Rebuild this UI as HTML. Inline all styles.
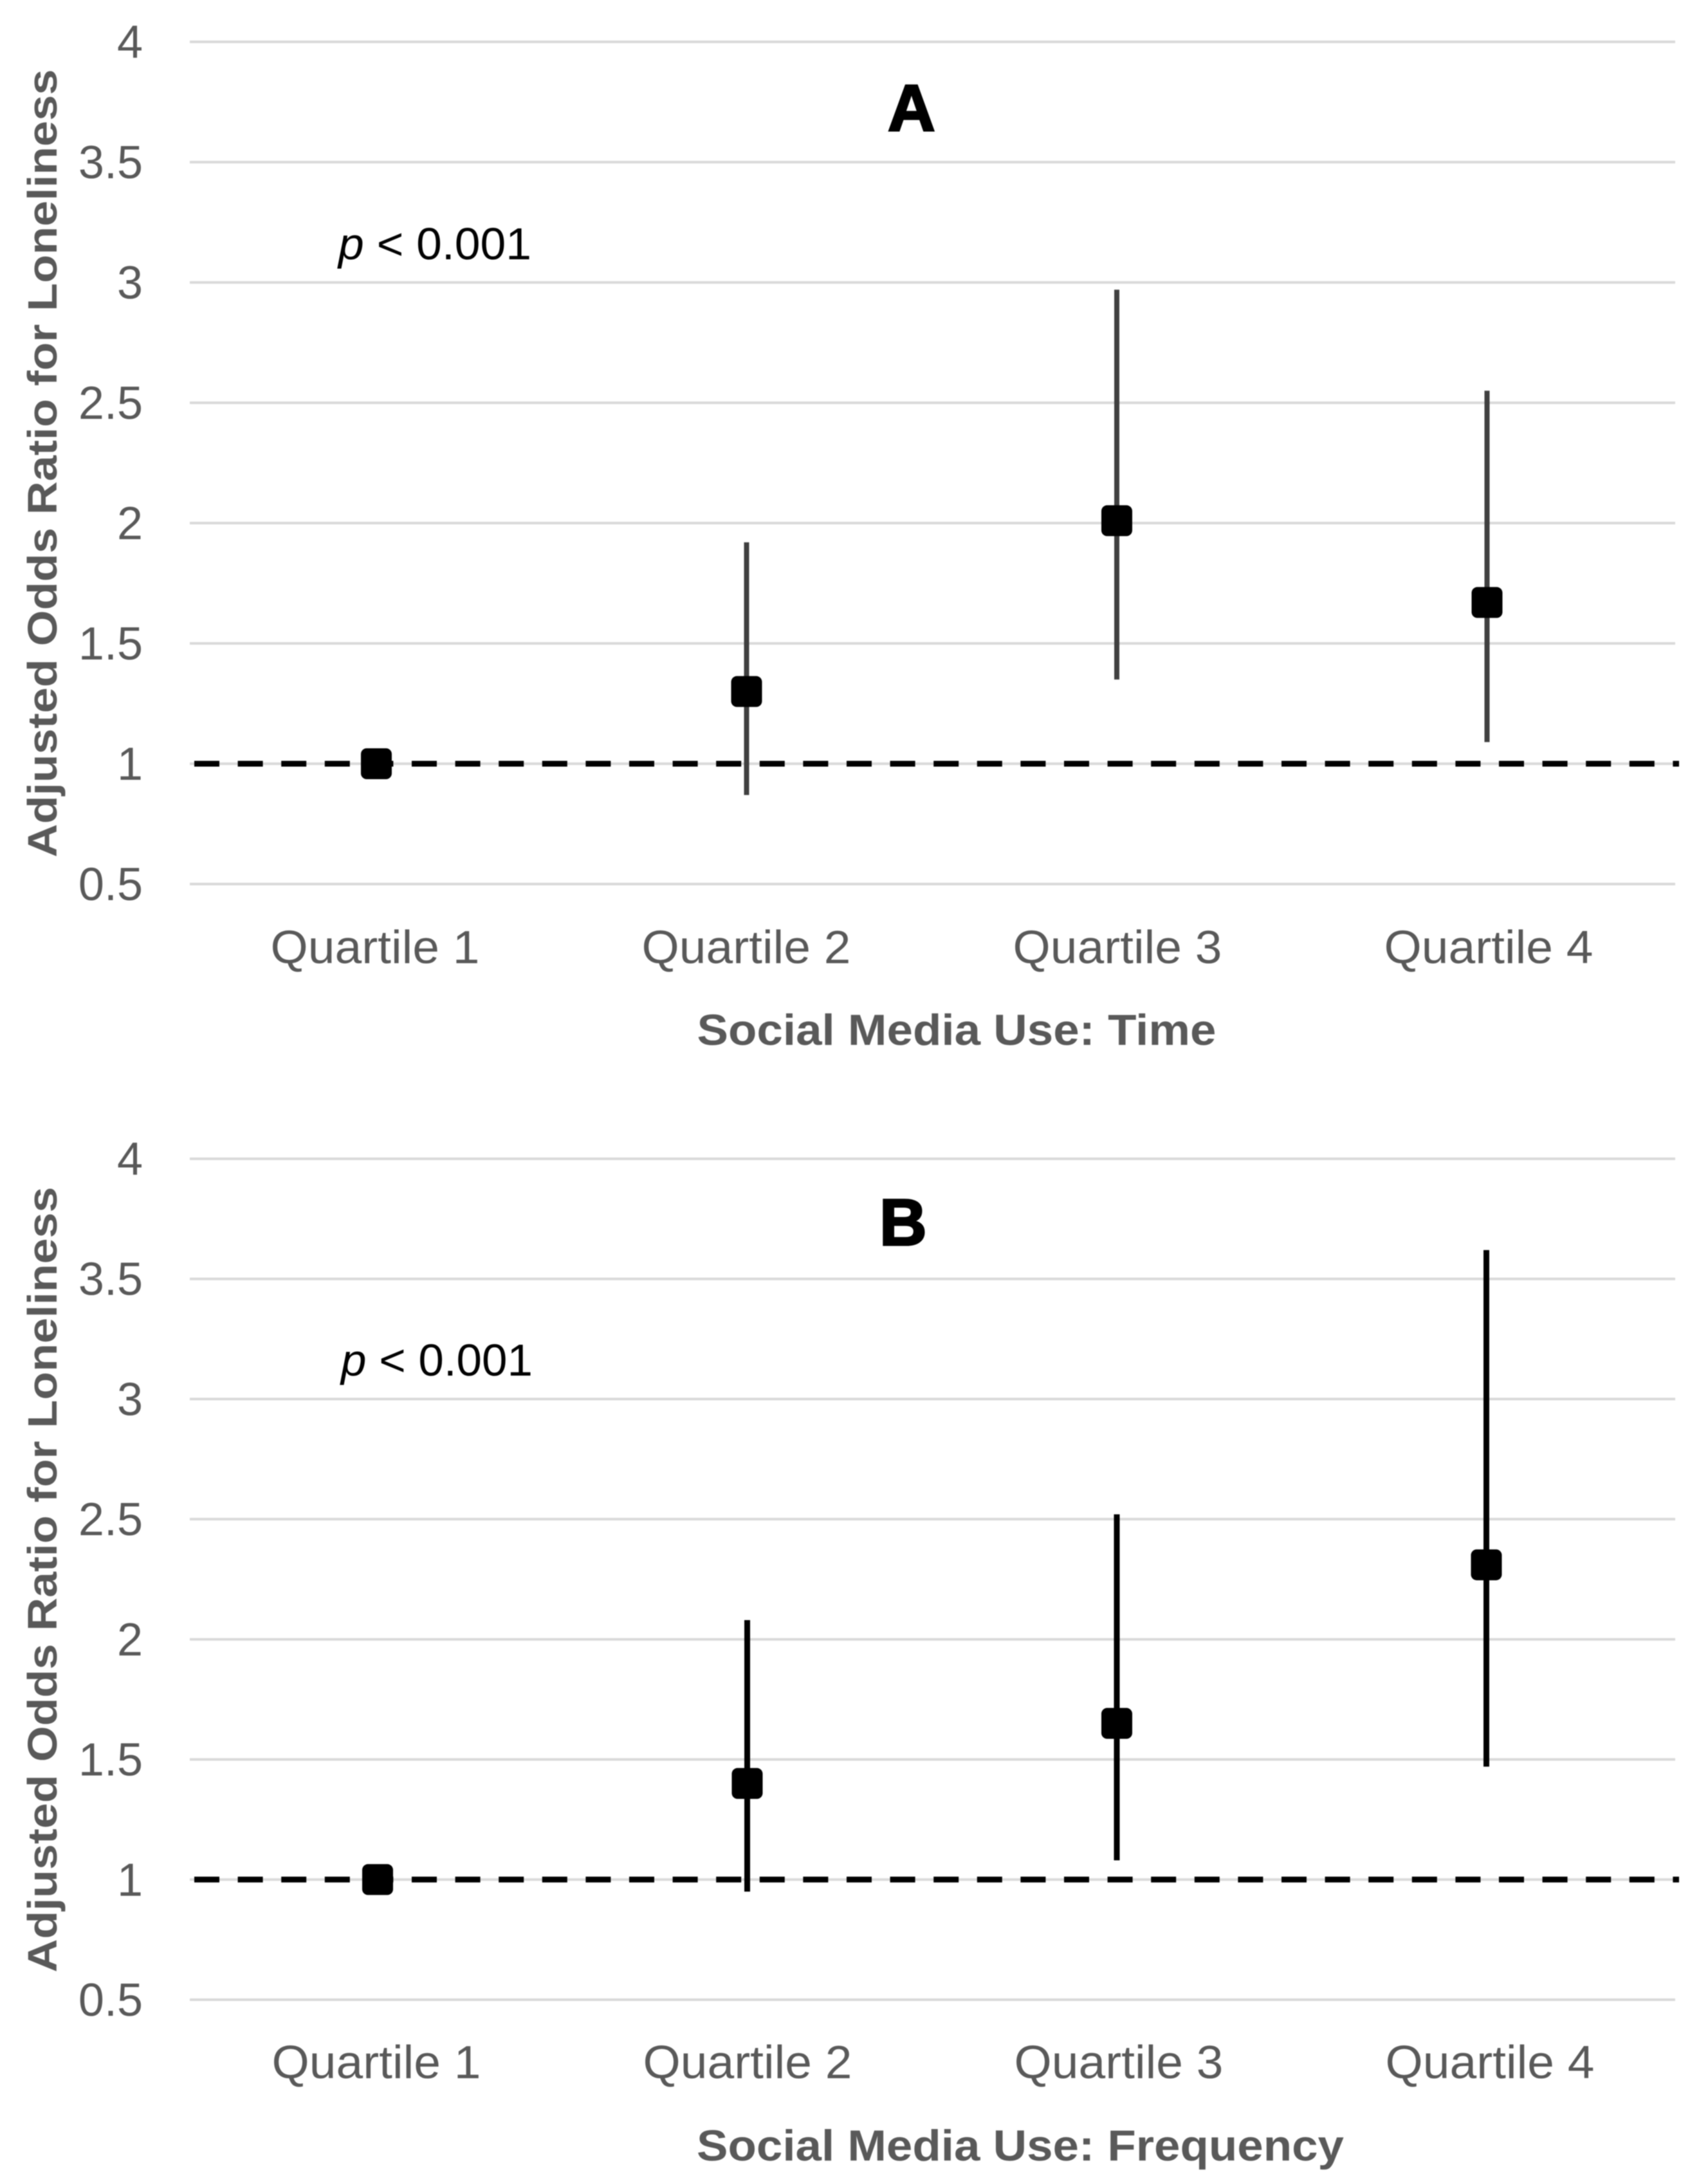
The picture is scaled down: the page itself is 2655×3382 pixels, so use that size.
<!DOCTYPE html>
<html lang="en">
<head>
<meta charset="utf-8">
<title>Adjusted odds ratio for loneliness by social media use</title>
<style>
html,body{margin:0;padding:0;background:#fff;}
body{width:2655px;height:3382px;overflow:hidden;}
svg{display:block;filter:blur(0.9px);}
text{font-family:"Liberation Sans",sans-serif;}
</style>
</head>
<body>
<svg id="figure" xmlns="http://www.w3.org/2000/svg" width="2655" height="3382" viewBox="0 0 2655 3382">
  <rect width="2655" height="3382" fill="#fff"/>
  <g id="panel-a">
    <text x="1380" y="203" font-size="102" font-weight="bold" fill="#000" stroke="#000" stroke-width="3">A</text>
    <text x="526" y="403" font-size="70" fill="#000" textLength="300" lengthAdjust="spacingAndGlyphs"><tspan font-style="italic">p</tspan> &lt; 0.001</text>
    <text transform="translate(88,720) rotate(-90)" text-anchor="middle" font-size="64" font-weight="bold" fill="#595959" textLength="1225" lengthAdjust="spacingAndGlyphs">Adjusted Odds Ratio for Loneliness</text>
    <text x="1487" y="1624" text-anchor="middle" font-size="68" font-weight="bold" fill="#595959" textLength="807" lengthAdjust="spacingAndGlyphs">Social Media Use: Time</text>
  </g>
  <g id="panel-b">
    <text x="1367" y="1935" font-size="102" font-weight="bold" fill="#000" stroke="#000" stroke-width="3">B</text>
    <text x="530" y="2138" font-size="70" fill="#000" textLength="298" lengthAdjust="spacingAndGlyphs"><tspan font-style="italic">p</tspan> &lt; 0.001</text>
    <text transform="translate(88,2455) rotate(-90)" text-anchor="middle" font-size="64" font-weight="bold" fill="#595959" textLength="1221" lengthAdjust="spacingAndGlyphs">Adjusted Odds Ratio for Loneliness</text>
    <text x="1586" y="3358" text-anchor="middle" font-size="68" font-weight="bold" fill="#595959" textLength="1006" lengthAdjust="spacingAndGlyphs">Social Media Use: Frequency</text>
  </g>
</svg>
<script>
const categories = ["Quartile 1", "Quartile 2", "Quartile 3", "Quartile 4"];
const yTicks = [0.5, 1, 1.5, 2, 2.5, 3, 3.5, 4];
const yTickLabels = ["0.5", "1", "1.5", "2", "2.5", "3", "3.5", "4"];
const referenceValue = 1;

const oddsA = [1, 1.30, 2.01, 1.67];
const lowerA = [null, 0.87, 1.35, 1.09];
const upperA = [null, 1.92, 2.97, 2.55];

const oddsB = [1, 1.40, 1.65, 2.31];
const lowerB = [null, 0.95, 1.08, 1.47];
const upperB = [null, 2.08, 2.52, 3.62];

const SVG_NS = "http://www.w3.org/2000/svg";

function add(parent, tag, attrs) {
  const el = document.createElementNS(SVG_NS, tag);
  for (const k in attrs) el.setAttribute(k, attrs[k]);
  parent.appendChild(el);
  return el;
}

function drawPanel(cfg, odds, lower, upper) {
  const root = document.getElementById(cfg.id);
  const yScale = function (v) {
    return cfg.yBottom + (v - 0.5) * (cfg.yTop - cfg.yBottom) / 3.5;
  };
  const xScale = function (i) {
    return cfg.xFirst + i * cfg.xStep;
  };

  yTicks.forEach(function (t, i) {
    const grid = add(root, "line", { x1: 295, x2: 2604, y1: yScale(t), y2: yScale(t), stroke: "#d9d9d9", "stroke-width": 4 });
    
    
    const label = add(root, "text", { x: 222, y: yScale(t) + 25, "text-anchor": "end", "font-size": 72, fill: "#595959" });
    label.textContent = yTickLabels[i];
    
    
  });

  const ref = add(root, "line", { x1: 302, x2: 2610, y1: yScale(referenceValue), y2: yScale(referenceValue), stroke: "#000", "stroke-width": 9, "stroke-dasharray": "39 28.6" });
  
  

  categories.forEach(function (c, i) {
    const label = add(root, "text", { x: cfg.xFirst - 2 + i * 577, y: cfg.xLabelY, "text-anchor": "middle", "font-size": 72, fill: "#595959", textLength: 325, lengthAdjust: "spacingAndGlyphs" });
    label.textContent = c;
    
    

    if (lower[i] !== null && upper[i] !== null) {
      const ci = add(root, "line", { x1: xScale(i), x2: xScale(i), y1: yScale(lower[i]), y2: yScale(upper[i]), stroke: cfg.ciColor, "stroke-width": cfg.ciWidth });
      
      
    }

    const point = add(root, "rect", { x: xScale(i) - 24, y: yScale(odds[i]) - 24, width: 48, height: 48, rx: 9, fill: "#000" });
    
    
  });
}

drawPanel({ id: "panel-a", yTop: 65, yBottom: 1374, xFirst: 585, xStep: 575.5, xLabelY: 1497, ciColor: "#404040", ciWidth: 8 }, oddsA, lowerA, upperA);
drawPanel({ id: "panel-b", yTop: 1801, yBottom: 3108, xFirst: 587, xStep: 574.5, xLabelY: 3230, ciColor: "#000", ciWidth: 9 }, oddsB, lowerB, upperB);
</script>
</body>
</html>
